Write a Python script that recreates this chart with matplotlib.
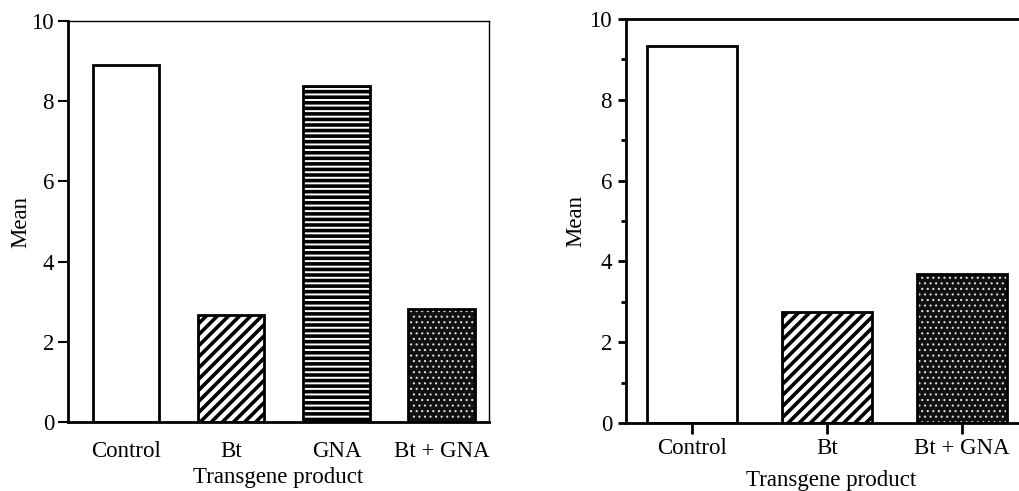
import matplotlib
matplotlib.use('Agg')
import matplotlib.pyplot as plt
import numpy as np

plt.rcParams['font.family'] = ['Liberation Serif', 'DejaVu Serif']
plt.rcParams['font.size'] = 16.5

# left panel data
cats_a = ['Control', 'Bt', 'GNA', 'Bt + GNA']
mean_a = [8.9, 2.67, 8.37, 2.83]
# right panel data
cats_b = ['Control', 'Bt', 'Bt + GNA']
mean_b = [9.34, 2.75, 3.70]

yticks = [0, 2, 4, 6, 8, 10]


def draw_bar(ax, x, h, w, kind):
    # white bar / diagonal stripes / horizontal stripes / dotted black
    if kind == 'plain':
        ax.bar(x, h, w, color='white', edgecolor='black', linewidth=2)
    elif kind == 'diag':
        ax.bar(x, h, w, color='white', edgecolor='black', linewidth=0,
               hatch='///', hatch_linewidth=2.6)
        ax.bar(x, h, w, color='none', edgecolor='black', linewidth=2)
    elif kind == 'horiz':
        ax.bar(x, h, w, color='white', edgecolor='black', linewidth=0,
               hatch='---', hatch_linewidth=2.6)
        ax.bar(x, h, w, color='none', edgecolor='black', linewidth=2)
    elif kind == 'dots':
        ax.bar(x, h, w, color='#111111', edgecolor='#dddddd', linewidth=0,
               hatch='...', hatch_linewidth=0.8)
        ax.bar(x, h, w, color='none', edgecolor='black', linewidth=2)


fig = plt.figure(figsize=(10.19, 4.91), dpi=100)

# ---- left panel ----
ax1 = fig.add_axes([68/1019, 69/491, 421/1019, 401/491])
kinds_a = ['plain', 'diag', 'horiz', 'dots']
for i in range(len(cats_a)):
    draw_bar(ax1, i, mean_a[i], 0.63, kinds_a[i])
ax1.set_xlim(-0.55, 3.45)
ax1.set_ylim(0, 10)
ax1.set_yticks(yticks)
ax1.set_xticks(range(len(cats_a)))
ax1.set_xticklabels(cats_a)
ax1.tick_params(axis='y', direction='out', length=7, width=1.5, pad=3)
ax1.tick_params(axis='x', length=0, pad=14)
ax1.spines['left'].set_linewidth(2)
ax1.spines['bottom'].set_linewidth(2)
ax1.spines['top'].set_linewidth(1)
ax1.spines['right'].set_linewidth(1)
ax1.set_ylabel('Mean', labelpad=0)
ax1.set_xlabel('Transgene product', labelpad=3)

# ---- right panel ----
ax2 = fig.add_axes([626/1019, 68/491, 410/1019, 404/491])
kinds_b = ['plain', 'diag', 'dots']
for i in range(len(cats_b)):
    draw_bar(ax2, i, mean_b[i], 0.67, kinds_b[i])
ax2.set_xlim(-0.49, 2.55)
ax2.set_ylim(0, 10)
ax2.set_yticks(yticks)
ax2.set_yticks(np.arange(1, 10, 2), minor=True)
ax2.set_xticks(range(len(cats_b)))
ax2.set_xticklabels(cats_b)
ax2.tick_params(axis='y', which='major', direction='out', length=6, width=2, pad=4)
ax2.tick_params(axis='y', which='minor', direction='out', length=3.5, width=2)
ax2.tick_params(axis='x', direction='out', length=8, width=2, pad=3)
for s in ['left', 'bottom', 'top']:
    ax2.spines[s].set_linewidth(2)
ax2.spines['right'].set_visible(False)
ax2.set_ylabel('Mean', labelpad=2)
ax2.set_xlabel('Transgene product', labelpad=8)

fig.savefig('out.png', dpi=100)
